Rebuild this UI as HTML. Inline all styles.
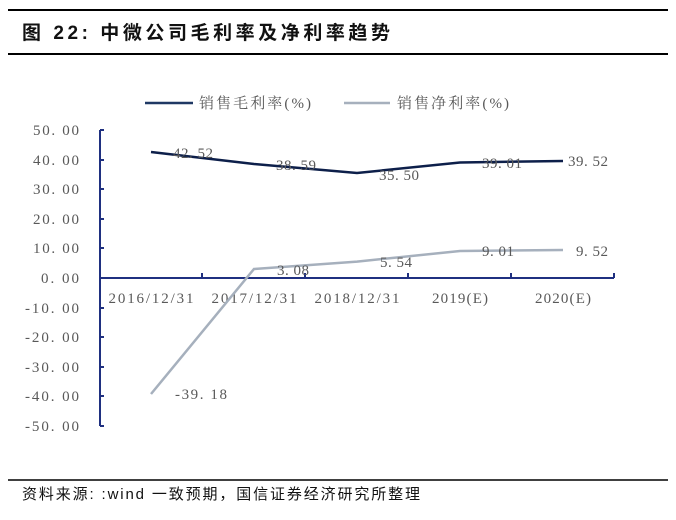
<!DOCTYPE html>
<html><head><meta charset="utf-8"><style>
body{margin:0;background:#fff;}
svg{display:block;}
</style></head><body>
<svg width="676" height="520" xmlns="http://www.w3.org/2000/svg">
<line x1="8" y1="10" x2="668" y2="10" stroke="#000" stroke-width="2"/>
<line x1="8" y1="54" x2="668" y2="54" stroke="#000" stroke-width="2"/>
<text x="22" y="39" font-family="Liberation Sans, Noto Sans CJK SC, sans-serif" font-size="19" font-weight="bold" fill="#111" textLength="368" lengthAdjust="spacing">图 22: 中微公司毛利率及净利率趋势</text>
<line x1="145" y1="103" x2="193" y2="103" stroke="#1f3864" stroke-width="2.5"/>
<text x="199" y="108" font-family="Liberation Serif, Noto Serif CJK SC, serif" font-size="15" fill="#595959" textLength="112" lengthAdjust="spacing">销售毛利率(%)</text>
<line x1="344" y1="103" x2="390" y2="103" stroke="#a6b0bd" stroke-width="2.5"/>
<text x="397" y="108" font-family="Liberation Serif, Noto Serif CJK SC, serif" font-size="15" fill="#595959" textLength="112" lengthAdjust="spacing">销售净利率(%)</text>
<g font-family="Liberation Serif, serif" font-size="15" fill="#595959" text-anchor="end">
<text x="79" y="135" textLength="46">50. 00</text><text x="79" y="165" textLength="46">40. 00</text><text x="79" y="194" textLength="46">30. 00</text><text x="79" y="224" textLength="46">20. 00</text><text x="79" y="253" textLength="46">10. 00</text><text x="79" y="283" textLength="38">0. 00</text><text x="79" y="313" textLength="54">-10. 00</text><text x="79" y="342" textLength="54">-20. 00</text><text x="79" y="372" textLength="54">-30. 00</text><text x="79" y="401" textLength="54">-40. 00</text><text x="79" y="431" textLength="54">-50. 00</text>
</g>
<g stroke="#1f3080" stroke-width="2" fill="none">
<line x1="100" y1="130" x2="100" y2="426"/>
<line x1="100" y1="278" x2="614" y2="278"/>
<path d="M100 130h4M100 160h4M100 189h4M100 219h4M100 248h4M100 308h4M100 337h4M100 367h4M100 396h4M100 426h4"/>
<path d="M202 278v-5M305 278v-5M408 278v-5M511 278v-5M614 278v-5"/>
</g>
<g font-family="Liberation Serif, serif" font-size="15" fill="#595959" text-anchor="middle">
<text x="151" y="303" textLength="85">2016/12/31</text><text x="254" y="303" textLength="85">2017/12/31</text><text x="357" y="303" textLength="85">2018/12/31</text><text x="460" y="303" textLength="56">2019(E)</text><text x="563" y="303" textLength="56">2020(E)</text>
</g>
<polyline points="151,394 254,269 357,261.6 460,251 563,250" fill="none" stroke="#a6b0bd" stroke-width="2.5"/>
<polyline points="151,152 254,164 357,173 460,162.5 563,161" fill="none" stroke="#0d1f4a" stroke-width="2.5"/>
<g font-family="Liberation Serif, serif" font-size="15" fill="#595959">
<text x="173" y="158" textLength="40">42. 52</text><text x="276" y="170" textLength="40">38. 59</text><text x="379" y="180" textLength="40">35. 50</text><text x="482" y="168" textLength="40">39. 01</text><text x="568" y="166" textLength="40">39. 52</text>
<text x="175" y="399" textLength="52">-39. 18</text><text x="277" y="275" textLength="32">3. 08</text><text x="380" y="267" textLength="32">5. 54</text><text x="482" y="256" textLength="32">9. 01</text><text x="576" y="256" textLength="32">9. 52</text>
</g>
<line x1="8" y1="480" x2="668" y2="480" stroke="#000" stroke-width="1.5"/>
<text x="22" y="499" font-family="Liberation Sans, Noto Sans CJK SC, sans-serif" font-size="15" fill="#111" textLength="398" lengthAdjust="spacing">资料来源: :wind 一致预期，国信证券经济研究所整理</text>
</svg>
</body></html>
